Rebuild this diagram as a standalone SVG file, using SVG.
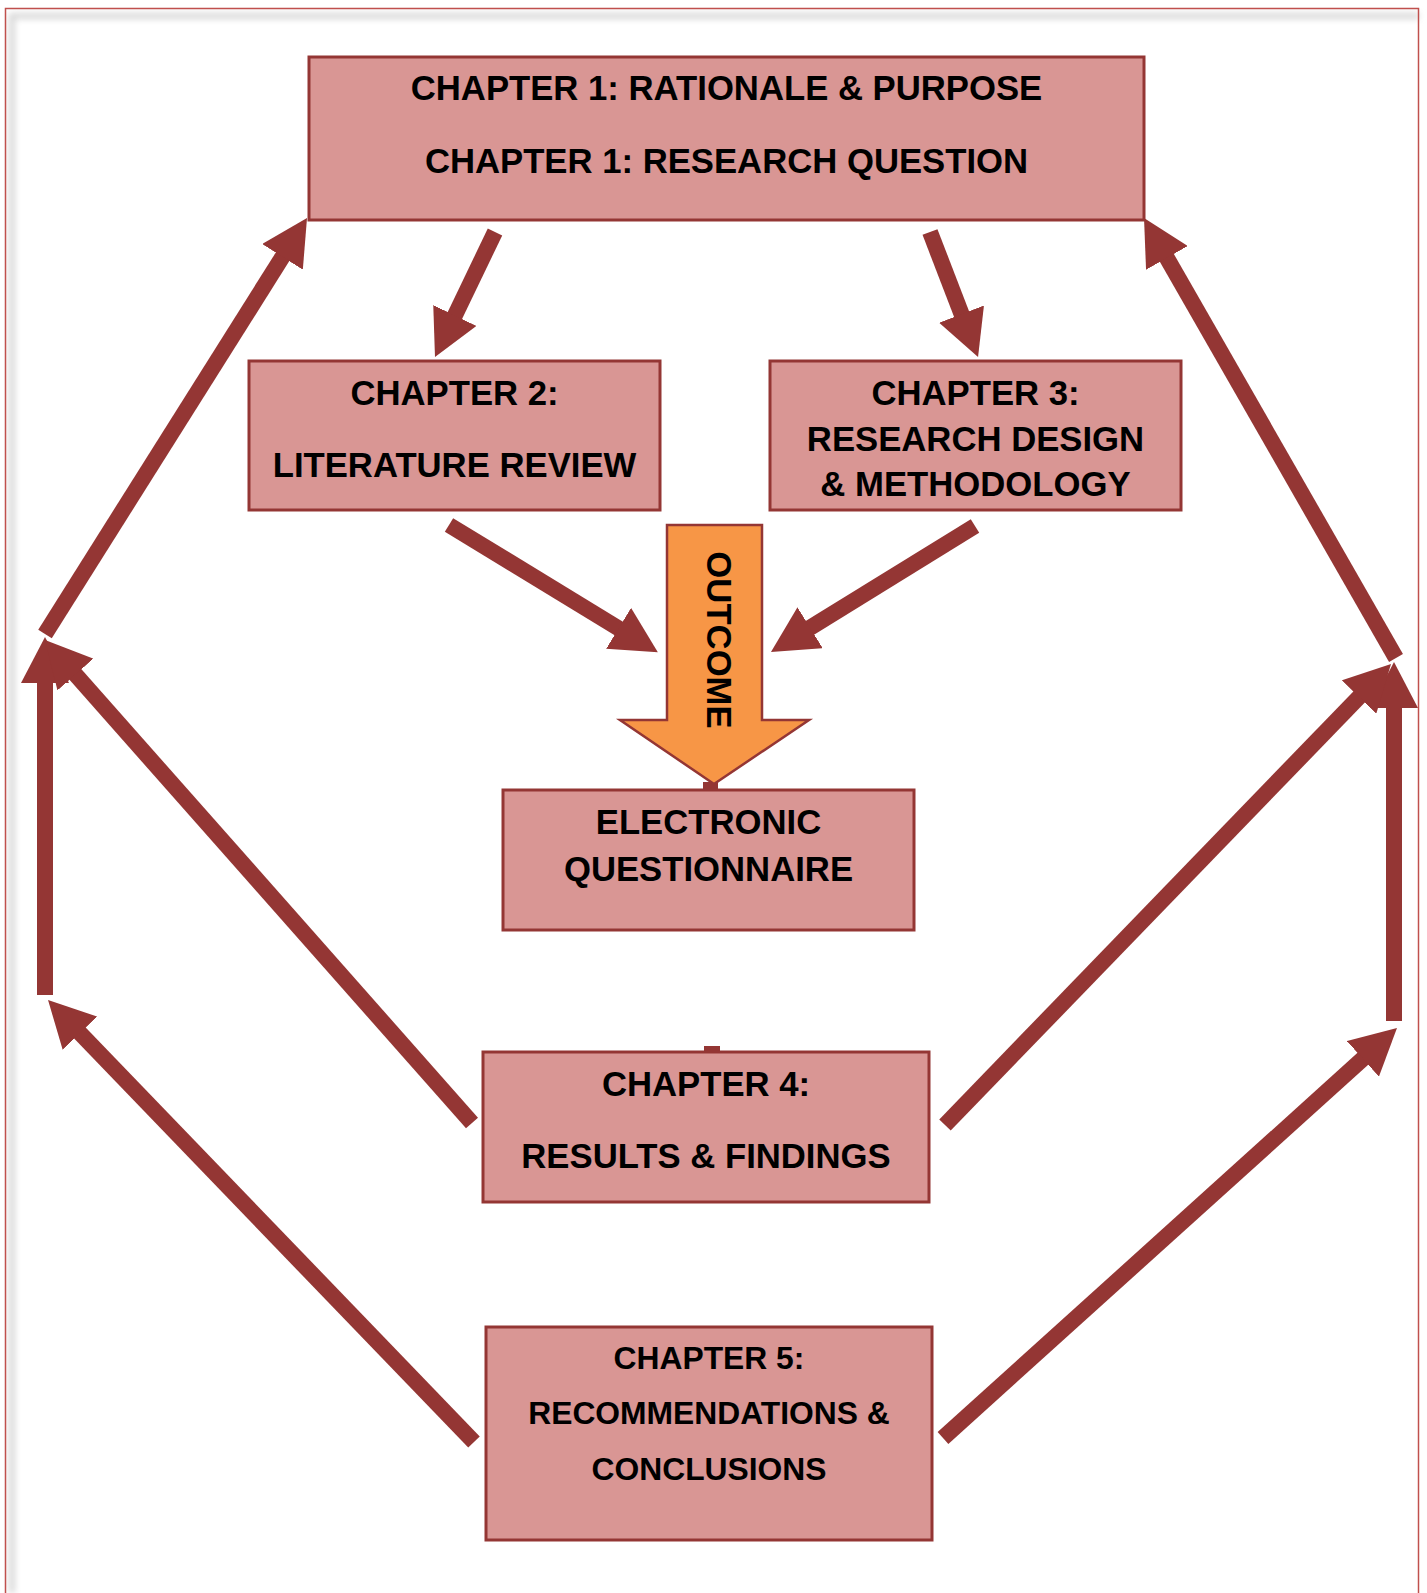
<svg xmlns="http://www.w3.org/2000/svg" width="1427" height="1593" viewBox="0 0 1427 1593">
<style>
.box{fill:#D99694;stroke:#943634;stroke-width:3}
.t{font-family:"Liberation Sans",Arial,sans-serif;font-weight:bold;font-size:34.7px;fill:#000;text-anchor:middle}
.t5{font-size:31.8px}
.c{stroke:#943634;stroke-width:16;fill:none;marker-end:url(#ah)}
</style>
<defs>
<marker id="ah" viewBox="0 0 46 48" markerWidth="46" markerHeight="48" markerUnits="userSpaceOnUse" refX="6" refY="24" orient="auto">
<path d="M0,0 L46,24 L0,48 Z" fill="#943634"/>
</marker>
<filter id="blur" x="-10%" y="-10%" width="120%" height="120%"><feGaussianBlur stdDeviation="3"/></filter>
</defs>
<rect width="1427" height="1593" fill="#fff"/>
<g id="frame">
<path d="M12,1593 L12,16 L1419,16" stroke="#d8d8d8" stroke-width="6" fill="none" filter="url(#blur)"/>
<path d="M1423,12 L1423,1593" stroke="#d8d8d8" stroke-width="6" fill="none" filter="url(#blur)"/>
<rect x="5.5" y="8.5" width="1413" height="1600" fill="none" stroke="#C0504D" stroke-width="1.5"/>
</g>
<g id="connectors">
<line class="c" x1="495" y1="232" x2="452.3" y2="320.9"/>
<line class="c" x1="930" y1="232" x2="963.7" y2="319.7"/>
<line class="c" x1="449" y1="525" x2="623.7" y2="631.5"/>
<line class="c" x1="975" y1="526" x2="805" y2="630.9"/>
<line class="c" x1="45" y1="634" x2="285.7" y2="251.8"/>
<line class="c" x1="1396" y1="658" x2="1163.9" y2="252.7"/>
<line class="c" x1="45" y1="995" x2="45" y2="677"/>
<line class="c" x1="472" y1="1123" x2="71.5" y2="670"/>
<line class="c" x1="1394" y1="1021" x2="1394" y2="702"/>
<line class="c" x1="945" y1="1125" x2="1363.2" y2="692.7"/>
<line class="c" x1="474" y1="1442" x2="75.8" y2="1028.8"/>
<line class="c" x1="943" y1="1438" x2="1367.3" y2="1054.8"/>
<rect x="703" y="782" width="15" height="9" fill="#943634"/>
<rect x="704" y="1046" width="16" height="7" fill="#943634"/>
</g>
<g id="ch1">
<rect class="box" x="309" y="57" width="835" height="163"/>
<text class="t" x="726.5" y="100">CHAPTER 1: RATIONALE &amp; PURPOSE</text>
<text class="t" x="726.5" y="173">CHAPTER 1: RESEARCH QUESTION</text>
</g>
<g id="ch2">
<rect class="box" x="249" y="361" width="411" height="149"/>
<text class="t" x="454.5" y="405">CHAPTER 2:</text>
<text class="t" x="454.5" y="477">LITERATURE REVIEW</text>
</g>
<g id="ch3">
<rect class="box" x="770" y="361" width="411" height="149"/>
<text class="t" x="975.5" y="405">CHAPTER 3:</text>
<text class="t" x="975.5" y="450.5">RESEARCH DESIGN</text>
<text class="t" x="975.5" y="496">&amp; METHODOLOGY</text>
</g>
<g id="outcome">
<polygon points="667,525 762,525 762,720 809,720 714,784 620,720 667,720" fill="#F79646" stroke="#943634" stroke-width="2.5"/>
<text class="t" font-size="34px" transform="translate(707,640) rotate(90)">OUTCOME</text>
</g>
<g id="questionnaire">
<rect class="box" x="503" y="790" width="411" height="140"/>
<text class="t" x="708.5" y="834">ELECTRONIC</text>
<text class="t" x="708.5" y="881">QUESTIONNAIRE</text>
</g>
<g id="ch4">
<rect class="box" x="483" y="1052" width="446" height="150"/>
<text class="t" x="706" y="1096">CHAPTER 4:</text>
<text class="t" x="706" y="1168">RESULTS &amp; FINDINGS</text>
</g>
<g id="ch5">
<rect class="box" x="486" y="1327" width="446" height="213"/>
<text class="t t5" x="709" y="1369">CHAPTER 5:</text>
<text class="t t5" x="709" y="1424">RECOMMENDATIONS &amp;</text>
<text class="t t5" x="709" y="1480">CONCLUSIONS</text>
</g>
</svg>
